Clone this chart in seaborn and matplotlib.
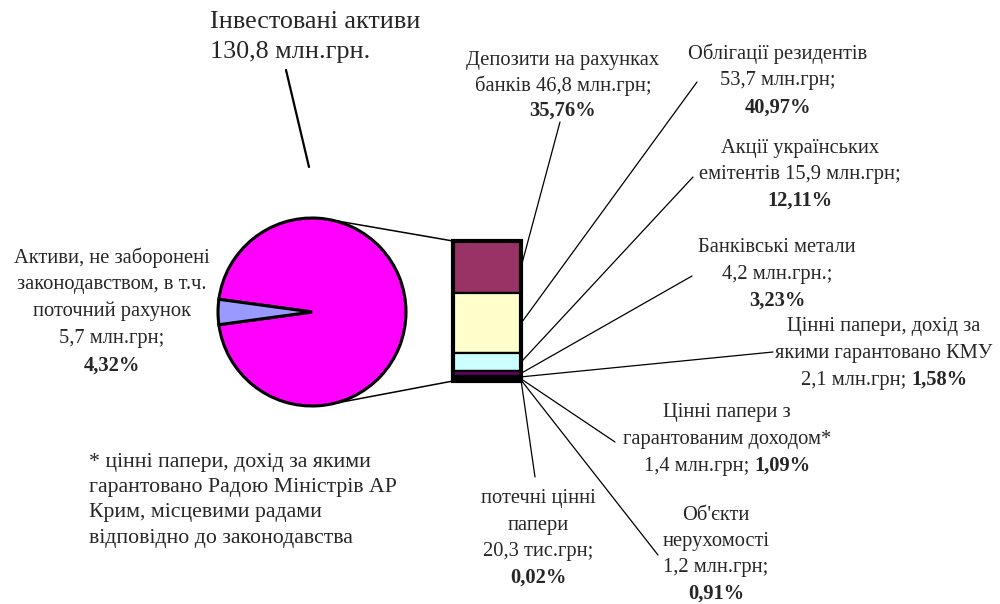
import matplotlib
matplotlib.use("Agg")
import matplotlib.pyplot as plt
import seaborn as sns
import numpy as np

sns.set_theme(style="white")
plt.rcParams['font.family'] = ['Liberation Serif', 'DejaVu Serif']

# ---- data ----
pie_names = ["Інвестовані активи", "Активи, не заборонені законодавством"]
pie_shares = [95.68, 4.32]
pie_colors = ["#FF00FF", "#9999FF"]

bar_names = ["Депозити на рахунках банків", "Облігації резидентів",
             "Акції українських емітентів", "Банківські метали",
             "Цінні папери, дохід за якими гарантовано КМУ",
             "Цінні папери з гарантованим доходом*", "Об'єкти нерухомості",
             "потечні цінні папери"]
bar_shares = [35.76, 40.97, 12.11, 3.23, 1.58, 1.09, 0.91, 0.02]
bar_colors = ["#993366", "#FFFFCC", "#CCFFFF", "#660066",
              "#000080", "#800000", "#008080", "#0000FF"]

# label lines; a tuple is (plain text, bold percent) on one line
bar_label_lines = [
    ["Депозити на рахунках", "банків 46,8 млн.грн;", ("", "35,76%")],
    ["Облігації резидентів", "53,7 млн.грн;", ("", "40,97%")],
    ["Акції українських", "емітентів 15,9 млн.грн;", ("", "12,11%")],
    ["Банківські метали", "4,2 млн.грн.;", ("", "3,23%")],
    ["Цінні папери, дохід за", "якими гарантовано КМУ", ("2,1 млн.грн; ", "1,58%")],
    ["Цінні папери з", "гарантованим доходом*", ("1,4 млн.грн; ", "1,09%")],
    ["Об'єкти", "нерухомості", "1,2 млн.грн;", ("", "0,91%")],
    ["потечні цінні", "папери", "20,3 тис.грн;", ("", "0,02%")],
]
pie_label_lines = ["Активи, не заборонені", "законодавством, в т.ч.",
                   "поточний рахунок", "5,7 млн.грн;", ("", "4,32%")]
title_lines = ["Інвестовані активи", "130,8 млн.грн."]
footnote_lines = ["* цінні папери, дохід за якими",
                  "гарантовано Радою Міністрів АР",
                  "Крим, місцевими радами",
                  "відповідно до законодавства"]

# ---- layout (pixel space) ----
W, H = 1000, 604
fig = plt.figure(figsize=(W / 100, H / 100), dpi=100)
ax = fig.add_axes([0, 0, 1, 1])

pie_c = (312, 312)
pie_r = 94
small_span = pie_shares[1] * 3.6
ax.pie(pie_shares, colors=pie_colors, center=pie_c, radius=pie_r,
       startangle=180 + small_span / 2, counterclock=True,
       wedgeprops=dict(edgecolor="black", linewidth=2.2))

ax.set_xlim(0, W)
ax.set_ylim(H, 0)
ax.set_aspect("equal")
ax.axis("off")

bar_x, bar_w, bar_top, bar_h = 487, 68, 241, 140
scale = bar_h / sum(bar_shares)
heights = np.array(bar_shares) * scale
bottoms = bar_top + np.concatenate([[0], np.cumsum(heights)[:-1]])
ax.bar([bar_x] * len(heights), heights, bottom=bottoms, width=bar_w,
       color=bar_colors, edgecolor="black", linewidth=1.6, zorder=3)
ax.bar([bar_x], [bar_h], bottom=[bar_top], width=bar_w, fill=False,
       edgecolor="black", linewidth=3, zorder=4)

# connectors pie -> bar
ang = np.deg2rad(79)
p_top = (pie_c[0] + pie_r * np.cos(ang), pie_c[1] - pie_r * np.sin(ang))
p_bot = (pie_c[0] + pie_r * np.cos(ang), pie_c[1] + pie_r * np.sin(ang))
x_left = bar_x - bar_w / 2
ax.plot([p_top[0], x_left], [p_top[1], bar_top], color="black", lw=1.1, zorder=2)
ax.plot([p_bot[0], x_left], [p_bot[1], bar_top + bar_h], color="black", lw=1.1, zorder=2)

# leader lines
x_right = bar_x + bar_w / 2
line_ends = [(560, 122), (697, 82), (693, 177), (692, 276),
             (773, 352), (615, 442), (658, 555), (535, 477)]
mids = bottoms + heights / 2
for i in range(len(bar_shares)):
    y0 = min(mids[i], bar_top + bar_h - 1)
    ax.plot([x_right, line_ends[i][0]], [y0, line_ends[i][1]],
            color="black", lw=0.9, zorder=2)

fig.canvas.draw()
renderer = fig.canvas.get_renderer()

def text_width(s, size, weight="normal"):
    if not s:
        return 0.0
    t = ax.text(0, 0, s, fontsize=size, fontweight=weight)
    w = t.get_window_extent(renderer).width
    t.remove()
    return w

def put_block(cx, y0, dy, lines, size):
    for k, ln in enumerate(lines):
        y = y0 + k * dy
        if isinstance(ln, tuple):
            plain, bold = ln
            wp = text_width(plain, size)
            wb = text_width(bold, size, "bold")
            xl = cx - (wp + wb) / 2
            if plain:
                ax.text(xl, y, plain, ha="left", va="center", fontsize=size)
            ax.text(xl + wp, y, bold, ha="left", va="center", fontsize=size,
                    fontweight="bold")
        else:
            ax.text(cx, y, ln, ha="center", va="center", fontsize=size)

fs = 14.8
label_pos = [(563, 60, 25.5), (778, 54, 27), (800, 149, 26), (777, 248, 26.5),
             (884, 327, 26.5), (727, 413, 26.5), (716, 515, 26.2), (538, 499, 26.3)]
for i, lines in enumerate(bar_label_lines):
    cx, y0, dy = label_pos[i]
    put_block(cx, y0, dy, lines, fs)

put_block(112, 258, 26.8, pie_label_lines, fs)

# title and its leader
for k, ln in enumerate(title_lines):
    ax.text(210, 22 + k * 30, ln, ha="left", va="center", fontsize=18.8)
ax.plot([286, 309], [70, 167], color="black", lw=1.6)

# footnote
for k, ln in enumerate(footnote_lines):
    ax.text(89, 462 + k * 25.4, ln, ha="left", va="center", fontsize=15.7)

fig.savefig("out.png", dpi=100, facecolor="white")
